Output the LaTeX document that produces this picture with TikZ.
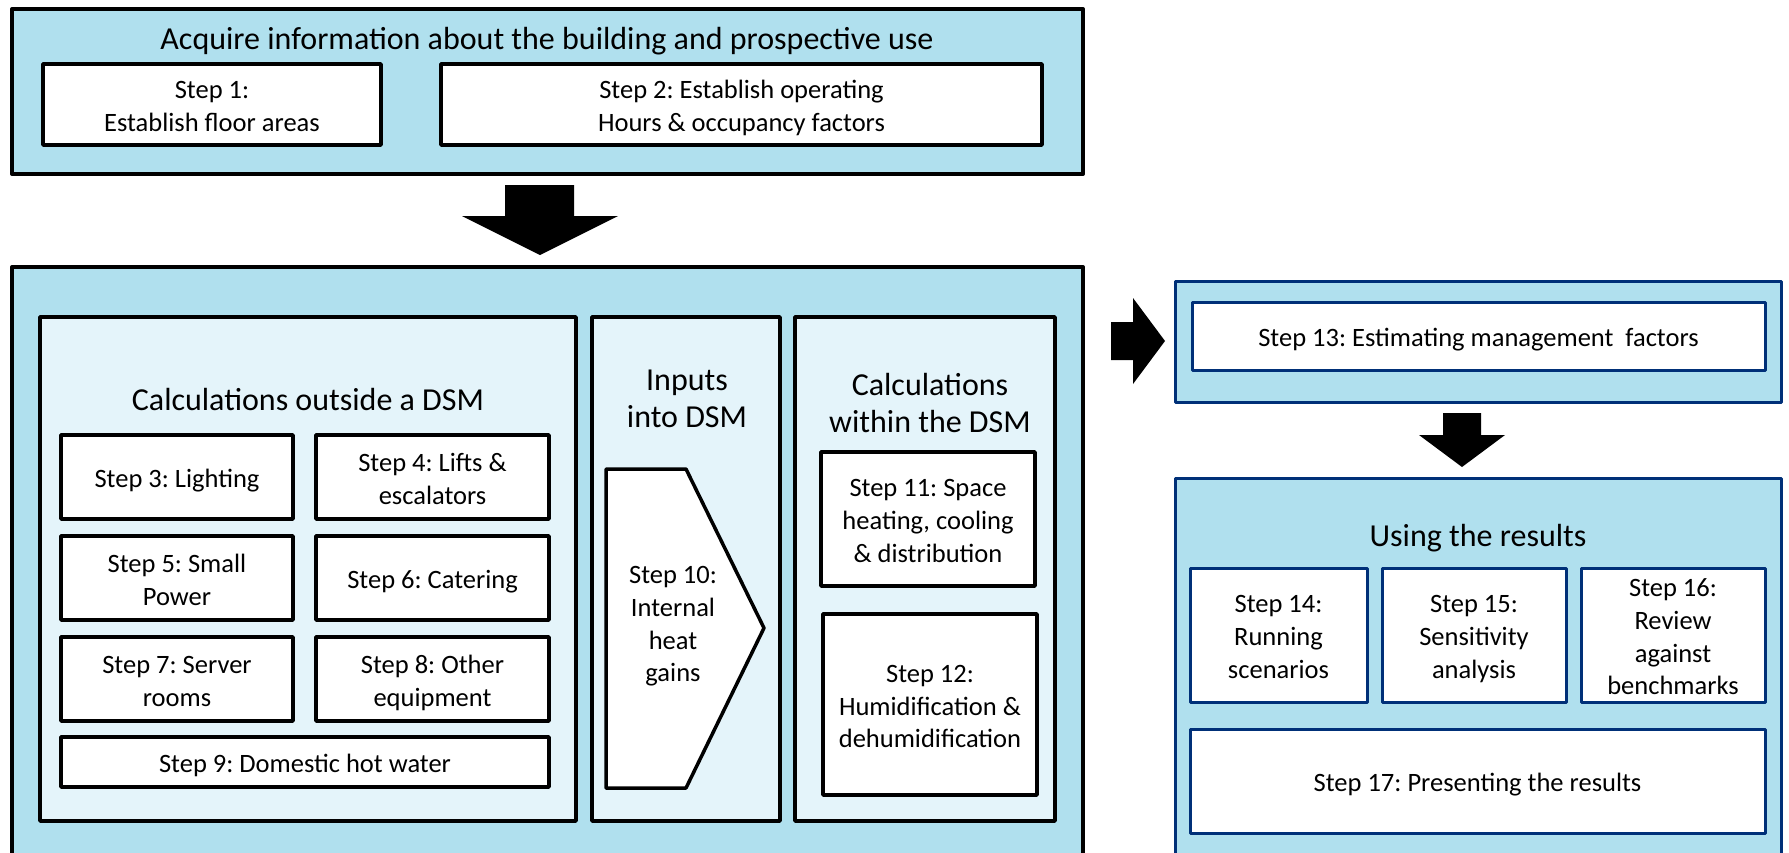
\documentclass[tikz,border=0pt]{standalone}
\usepackage{fontspec}
\setmainfont{Carlito}
\frenchspacing
\definecolor{outerblue}{RGB}{176,224,238}
\definecolor{innerblue}{RGB}{228,244,250}
\definecolor{navy}{RGB}{0,48,120}
\newcommand{\stepfont}{\fontsize{26.5}{31.5}\selectfont\frenchspacing}
\newcommand{\ttlfont}{\fontsize{32}{36.5}\selectfont\frenchspacing}
\newcommand{\sst}{\rule[-0.2em]{0pt}{1.2em}}
\tikzset{
  outerbox/.style={draw=black, line width=4pt, fill=outerblue, inner sep=0pt, line join=round},
  panelbox/.style={draw=black, line width=3.5pt, fill=innerblue, inner sep=0pt, line join=round},
  stepbox/.style={draw=black, line width=3.5pt, fill=white, inner sep=0pt, align=center, font=\stepfont, line join=round},
  navyouter/.style={draw=navy, line width=3pt, fill=outerblue, inner sep=0pt, line join=round},
  navystep/.style={draw=navy, line width=3pt, fill=white, inner sep=0pt, align=center, font=\stepfont, line join=round},
  ttl/.style={align=center, font=\ttlfont, inner sep=0pt},
  txt/.style={align=center, font=\stepfont, inner sep=0pt},
  blockarrow/.style={fill=black, draw=none}
}
\begin{document}
\begin{tikzpicture}[x=1pt, y=-1pt]
\useasboundingbox (0,0) rectangle (1789,852);
\clip (0,0) rectangle (1789,852);

% ---------- top box ----------
\node[outerbox, minimum width=1071, minimum height=165] (top) at (547.5,91.5) {};
\node[ttl] (toptitle) at (547,41) {Acquire information about the building and prospective use};
\node[stepbox, minimum width=338, minimum height=81] (s1) at (212,104.5) {\sst Step 1:\\\sst Establish floor areas};
\node[stepbox, minimum width=601, minimum height=81] (s2) at (741.5,104.5) {\sst Step 2: Establish operating\\\sst Hours \& occupancy factors};

% arrow top -> middle
\fill[blockarrow] (505,185) -- (574,185) -- (574,216) -- (618,216) -- (540,255) -- (462,216) -- (505,216) -- cycle;

% ---------- middle box ----------
\node[outerbox, minimum width=1071, minimum height=633] (mid) at (547.5,583.5) {};

% panel A
\node[panelbox, minimum width=536, minimum height=504] (pA) at (308,569) {};
\node[ttl] (pAtitle) at (308,400) {Calculations outside a DSM};
\node[stepbox, minimum width=232, minimum height=84] (s3) at (177,477) {\sst Step 3: Lighting};
\node[stepbox, minimum width=233, minimum height=84] (s4) at (432.5,477) {\sst Step 4: Lifts \&\\\sst escalators};
\node[stepbox, minimum width=232, minimum height=84] (s5) at (177,578) {\sst Step 5: Small\\\sst Power};
\node[stepbox, minimum width=233, minimum height=84] (s6) at (432.5,578) {\sst Step 6: Catering};
\node[stepbox, minimum width=232, minimum height=84] (s7) at (177,679) {\sst Step 7: Server\\\sst rooms};
\node[stepbox, minimum width=233, minimum height=84] (s8) at (432.5,679) {\sst Step 8: Other\\\sst equipment};
\node[stepbox, minimum width=488, minimum height=50] (s9) at (305,762) {\sst Step 9: Domestic hot water};

% panel B
\node[panelbox, minimum width=188, minimum height=504] (pB) at (686,569) {};
\node[ttl] (pBtitle) at (687,399) {Inputs\\into DSM};
\draw[draw=black, line width=3.5pt, fill=white, line join=round]
  (606,469) -- (686,469) -- (764,628) -- (686,788) -- (606,788) -- cycle;
\node[txt] (s10) at (673,622) {\sst Step 10:\\\sst Internal\\\sst heat\\\sst gains};

% panel C
\node[panelbox, minimum width=260, minimum height=504] (pC) at (925,569) {};
\node[ttl] (pCtitle) at (930,403) {Calculations\\within the DSM};
\node[stepbox, minimum width=214, minimum height=134] (s11) at (928,519) {\sst Step 11: Space\\\sst heating, cooling\\\sst \& distribution};
\node[stepbox, minimum width=214, minimum height=181] (s12) at (930,704.5) {\sst Step 12:\\\sst Humidification \&\\\sst dehumidification};

% arrow middle -> step 13
\fill[blockarrow] (1111,322) -- (1133,322) -- (1133,298) -- (1165,341) -- (1133,384) -- (1133,360) -- (1111,360) -- cycle;

% ---------- step 13 ----------
\node[navyouter, minimum width=606, minimum height=121] (r13) at (1478,341.5) {};
\node[navystep, minimum width=573, minimum height=68] (s13) at (1478.5,336) {\sst Step 13: Estimating management\ \ factors};

% arrow step 13 -> results
\fill[blockarrow] (1443,413) -- (1481,413) -- (1481,435) -- (1505,435) -- (1462,467) -- (1419,435) -- (1443,435) -- cycle;

% ---------- using the results ----------
\node[navyouter, minimum width=606, minimum height=422] (res) at (1478,689) {};
\node[ttl] (restitle) at (1478,538) {Using the results};
\node[navystep, minimum width=177, minimum height=134] (s14) at (1278.5,635) {\sst Step 14:\\\sst Running\\\sst scenarios};
\node[navystep, minimum width=184, minimum height=134] (s15) at (1474,635) {\sst Step 15:\\\sst Sensitivity\\\sst analysis};
\node[navystep, minimum width=184, minimum height=134] (s16) at (1673,635) {\sst Step 16:\\\sst Review\\\sst against\\\sst benchmarks};
\node[navystep, minimum width=575, minimum height=104] (s17) at (1477.5,781) {\sst Step 17: Presenting the results};
\end{tikzpicture}
\end{document}
